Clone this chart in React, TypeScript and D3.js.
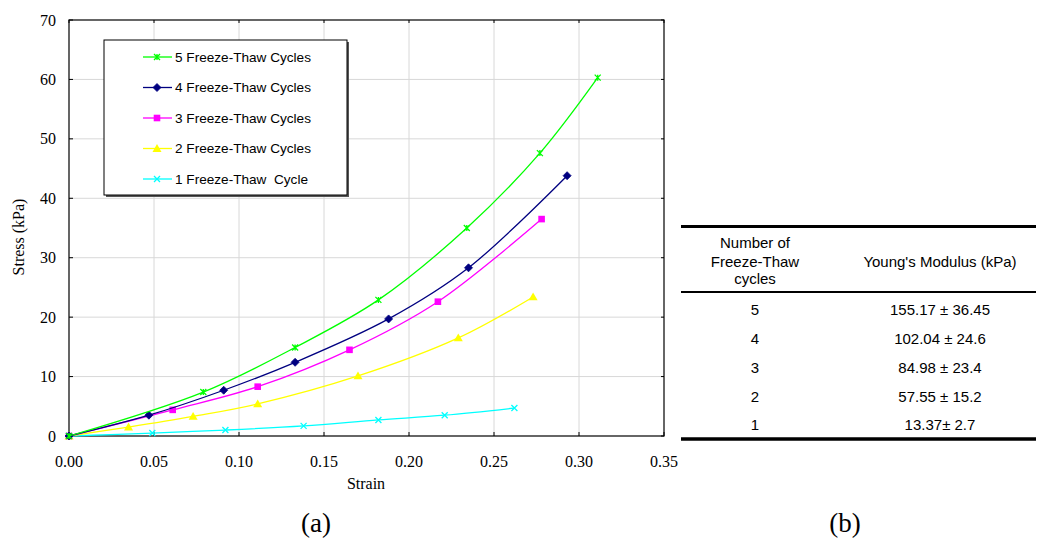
import React from "react";
import * as d3 from "d3";

type Pt = [number, number];

const xTicks = [0, 0.05, 0.1, 0.15, 0.2, 0.25, 0.3, 0.35];
const yTicks = [0, 10, 20, 30, 40, 50, 60, 70];

const cycles5: Pt[] = [[0, 0], [0.079, 7.4], [0.133, 14.9], [0.182, 22.9], [0.234, 35.0], [0.277, 47.6], [0.311, 60.3]];
const cycles4: Pt[] = [[0, 0], [0.047, 3.5], [0.091, 7.7], [0.133, 12.4], [0.188, 19.7], [0.235, 28.3], [0.293, 43.8]];
const cycles3: Pt[] = [[0, 0], [0.061, 4.4], [0.111, 8.3], [0.165, 14.5], [0.217, 22.6], [0.278, 36.5]];
const cycles2: Pt[] = [[0, 0], [0.035, 1.5], [0.073, 3.3], [0.111, 5.4], [0.170, 10.1], [0.229, 16.5], [0.273, 23.4]];
const cycles1: Pt[] = [[0, 0], [0.049, 0.5], [0.092, 1.0], [0.138, 1.7], [0.182, 2.7], [0.221, 3.5], [0.262, 4.7]];

const seriesNames = ["5 Freeze-Thaw Cycles", "4 Freeze-Thaw Cycles", "3 Freeze-Thaw Cycles", "2 Freeze-Thaw Cycles", "1 Freeze-Thaw  Cycle"];
const seriesColors = ["#00ff00", "#000080", "#ff00ff", "#ffff00", "#00ffff"];
const seriesMarkers = ["star", "diamond", "square", "triangle", "x"];
const seriesData = [cycles5, cycles4, cycles3, cycles2, cycles1];

const tableCycles = ["5", "4", "3", "2", "1"];
const tableModulus = ["155.17 ± 36.45", "102.04 ± 24.6", "84.98 ± 23.4", "57.55 ± 15.2", "13.37± 2.7"];

const X0 = 69, X1 = 664, Y0 = 436, Y1 = 20;
const x = d3.scaleLinear().domain([0, 0.35]).range([X0, X1]);
const y = d3.scaleLinear().domain([0, 70]).range([Y0, Y1]);

function Marker({ kind, cx, cy, color }: { kind: string; cx: number; cy: number; color: string }) {
  if (kind === "diamond") {
    const r = 4;
    return <path d={`M${cx},${cy - r}L${cx + r},${cy}L${cx},${cy + r}L${cx - r},${cy}Z`} fill={color} stroke={color} strokeWidth={0.8} />;
  }
  if (kind === "square") {
    const r = 3.3;
    return <rect x={cx - r} y={cy - r} width={2 * r} height={2 * r} fill={color} />;
  }
  if (kind === "triangle") {
    const r = 4.5;
    return <path d={`M${cx},${cy - r}L${cx + r},${cy + r * 0.75}L${cx - r},${cy + r * 0.75}Z`} fill={color} />;
  }
  const r = 3;
  const d = `M${cx - r},${cy - r}L${cx + r},${cy + r}M${cx - r},${cy + r}L${cx + r},${cy - r}` + (kind === "star" ? `M${cx},${cy - r}L${cx},${cy + r}` : "");
  return <path d={d} stroke={color} strokeWidth={1.3} fill="none" />;
}

export default function App() {
  const line = d3.line<Pt>().x((d) => x(d[0])).y((d) => y(d[1])).curve(d3.curveCatmullRom.alpha(0.5));
  const serif = "'Liberation Serif', 'Times New Roman', serif";
  const sans = "'Liberation Sans', Arial, sans-serif";
  const legX = 104, legY = 40, legW = 243, legH = 155;
  const colL = 755, colR = 940;
  const rowY = [314, 343, 372, 401, 429];
  const tf = 15;
  return (
    <svg width={1038} height={542} style={{ position: "absolute", left: 0, top: 0, background: "#fff" }}>
      <rect width={1038} height={542} fill="#fff" />
      {/* grid */}
      {xTicks.slice(1, -1).map((t) => (
        <line key={"gx" + t} x1={x(t)} x2={x(t)} y1={Y1} y2={Y0} stroke="#d8d8d8" strokeWidth={1} />
      ))}
      {yTicks.slice(1, -1).map((t) => (
        <line key={"gy" + t} x1={X0} x2={X1} y1={y(t)} y2={y(t)} stroke="#d8d8d8" strokeWidth={1} />
      ))}
      {/* frame */}
      <rect x={X0} y={Y1} width={X1 - X0} height={Y0 - Y1} fill="none" stroke="#000" strokeWidth={1.2} />
      {xTicks.map((t) => (
        <g key={"tx" + t}>
          <line x1={x(t)} x2={x(t)} y1={Y0} y2={Y0 - 4} stroke="#000" />
          <line x1={x(t)} x2={x(t)} y1={Y1} y2={Y1 + 3} stroke="#000" />
          <text x={x(t)} y={467} textAnchor="middle" fontFamily={serif} fontSize={16} fill="#000">{t.toFixed(2)}</text>
        </g>
      ))}
      {yTicks.map((t) => (
        <g key={"ty" + t}>
          <line x1={X0} x2={X0 + 4} y1={y(t)} y2={y(t)} stroke="#000" />
          <line x1={X1} x2={X1 - 3} y1={y(t)} y2={y(t)} stroke="#000" />
          <text x={56} y={y(t) + 5.5} textAnchor="end" fontFamily={serif} fontSize={16} fill="#000">{t}</text>
        </g>
      ))}
      <text x={366} y={489} textAnchor="middle" fontFamily={serif} fontSize={16} fill="#000">Strain</text>
      <text transform="translate(24,237) rotate(-90)" textAnchor="middle" fontFamily={serif} fontSize={16} fill="#000">Stress (kPa)</text>
      {/* series */}
      {seriesData.map((data, i) => (
        <g key={"s" + i}>
          <path d={line(data) || ""} fill="none" stroke={seriesColors[i]} strokeWidth={1.3} />
          {data.map((p, j) => (
            <Marker key={j} kind={seriesMarkers[i]} cx={x(p[0])} cy={y(p[1])} color={seriesColors[i]} />
          ))}
        </g>
      )).reverse()}
      {/* legend */}
      <rect x={legX + 2} y={legY + 2} width={legW} height={legH} fill="#555" />
      <rect x={legX} y={legY} width={legW} height={legH} fill="#fff" stroke="#000" strokeWidth={1} />
      {seriesNames.map((n, i) => {
        const ly = 57 + i * 30.5;
        return (
          <g key={"l" + i}>
            <line x1={143} x2={172} y1={ly} y2={ly} stroke={seriesColors[i]} strokeWidth={1.3} />
            <Marker kind={seriesMarkers[i]} cx={157} cy={ly} color={seriesColors[i]} />
            <text x={175} y={ly + 4.8} fontFamily={sans} fontSize={13.6} fill="#000" style={{ whiteSpace: "pre" }}>{n}</text>
          </g>
        );
      })}
      {/* table */}
      <line x1={681} x2={1036} y1={226.5} y2={226.5} stroke="#000" strokeWidth={3} />
      <line x1={681} x2={1036} y1={292} y2={292} stroke="#000" strokeWidth={2} />
      <line x1={681} x2={1036} y1={439} y2={439} stroke="#000" strokeWidth={3.5} />
      <text x={colL} y={247.5} textAnchor="middle" fontFamily={sans} fontSize={tf} fill="#000">Number of</text>
      <text x={colL} y={267} textAnchor="middle" fontFamily={sans} fontSize={tf} fill="#000">Freeze-Thaw</text>
      <text x={colL} y={284} textAnchor="middle" fontFamily={sans} fontSize={tf} fill="#000">cycles</text>
      <text x={colR} y={267} textAnchor="middle" fontFamily={sans} fontSize={tf} fill="#000">Young's Modulus (kPa)</text>
      {tableCycles.map((c, i) => (
        <g key={"r" + i}>
          <text x={colL} y={rowY[i] + 0.5} textAnchor="middle" fontFamily={sans} fontSize={tf} fill="#000">{c}</text>
          <text x={colR} y={rowY[i] + 0.5} textAnchor="middle" fontFamily={sans} fontSize={tf} fill="#000">{tableModulus[i]}</text>
        </g>
      ))}
      <text x={316} y={532} textAnchor="middle" fontFamily={serif} fontSize={27} fill="#000">(a)</text>
      <text x={845} y={532} textAnchor="middle" fontFamily={serif} fontSize={27} fill="#000">(b)</text>
    </svg>
  );
}
